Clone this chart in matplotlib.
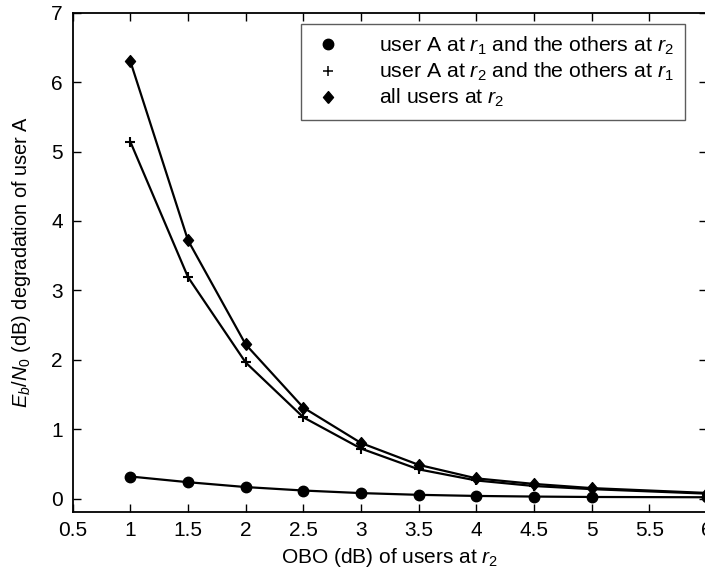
import matplotlib
matplotlib.use("Agg")
import matplotlib.pyplot as plt
from matplotlib.lines import Line2D

plt.rcParams['font.family'] = ['Liberation Sans', 'DejaVu Sans']
plt.rcParams['mathtext.fontset'] = 'custom'
plt.rcParams['mathtext.rm'] = 'Liberation Sans'
plt.rcParams['mathtext.it'] = 'Liberation Sans:italic'

# OBO values (dB) of users at r2
obo = [1, 1.5, 2, 2.5, 3, 3.5, 4, 4.5, 5, 6]

# Eb/N0 degradation of user A (dB)
deg_a_r1 = [0.317, 0.235, 0.165, 0.115, 0.078, 0.053, 0.037, 0.028, 0.022, 0.018]
deg_a_r2 = [5.14, 3.19, 1.96, 1.17, 0.72, 0.42, 0.26, 0.18, 0.135, 0.07]
deg_all_r2 = [6.30, 3.72, 2.22, 1.31, 0.80, 0.485, 0.29, 0.21, 0.15, 0.08]

labels = [r"user A at $r_1$ and the others at $r_2$",
          r"user A at $r_2$ and the others at $r_1$",
          r"all users at $r_2$"]

xticks = [0.5, 1, 1.5, 2, 2.5, 3, 3.5, 4, 4.5, 5, 5.5, 6]
xticklabels = ["0.5", "1", "1.5", "2", "2.5", "3", "3.5", "4", "4.5", "5", "5.5", "6"]
yticks = [0, 1, 2, 3, 4, 5, 6, 7]

# slightly tall diamond marker
diamond = [(0, -1), (0.85, 0), (0, 1), (-0.85, 0), (0, -1)]

FS = 15

fig = plt.figure(figsize=(7.05, 5.75), dpi=100)
ax = fig.add_axes([0.1031, 0.1101, 0.8997, 0.8678])

lw = 1.6
ax.plot(obo, deg_a_r1, color='black', lw=lw, marker='o', ms=7.5, clip_on=False, zorder=3)
ax.plot(obo, deg_a_r2, color='black', lw=lw, marker='+', ms=6.5, mew=1.5, zorder=3)
ax.plot(obo, deg_all_r2, color='black', lw=lw, marker=diamond, ms=8.5, zorder=3)

ax.set_xlim(0.5, 6)
ax.set_ylim(-0.19, 7)
ax.set_xticks(xticks)
ax.set_xticklabels(xticklabels)
ax.set_yticks(yticks)

ax.tick_params(axis='both', which='both', direction='in', length=6, width=1,
               top=True, right=True, labelsize=FS, pad=7)
for s in ax.spines.values():
    s.set_linewidth(1.3)

ax.set_xlabel(r"OBO (dB) of users at $r_2$", fontsize=FS, labelpad=4)
ax.set_ylabel(r"$E_b/N_0$ (dB) degradation of user A", fontsize=14.4, labelpad=13)

handles = [
    Line2D([], [], color='black', ls='none', marker='o', ms=7.5),
    Line2D([], [], color='black', ls='none', marker='+', ms=6.5, mew=1.1),
    Line2D([], [], color='black', ls='none', marker=diamond, ms=8.5),
]
leg = ax.legend(handles, labels, loc='upper left', bbox_to_anchor=(0.3595, 0.9768),
                borderaxespad=0, fontsize=15.3, frameon=True, fancybox=False,
                edgecolor='#333333', handlelength=1.6, handletextpad=1.6,
                labelspacing=0.18, borderpad=0.5)
leg.get_frame().set_linewidth(1.0)

fig.savefig("out.png", dpi=100)
